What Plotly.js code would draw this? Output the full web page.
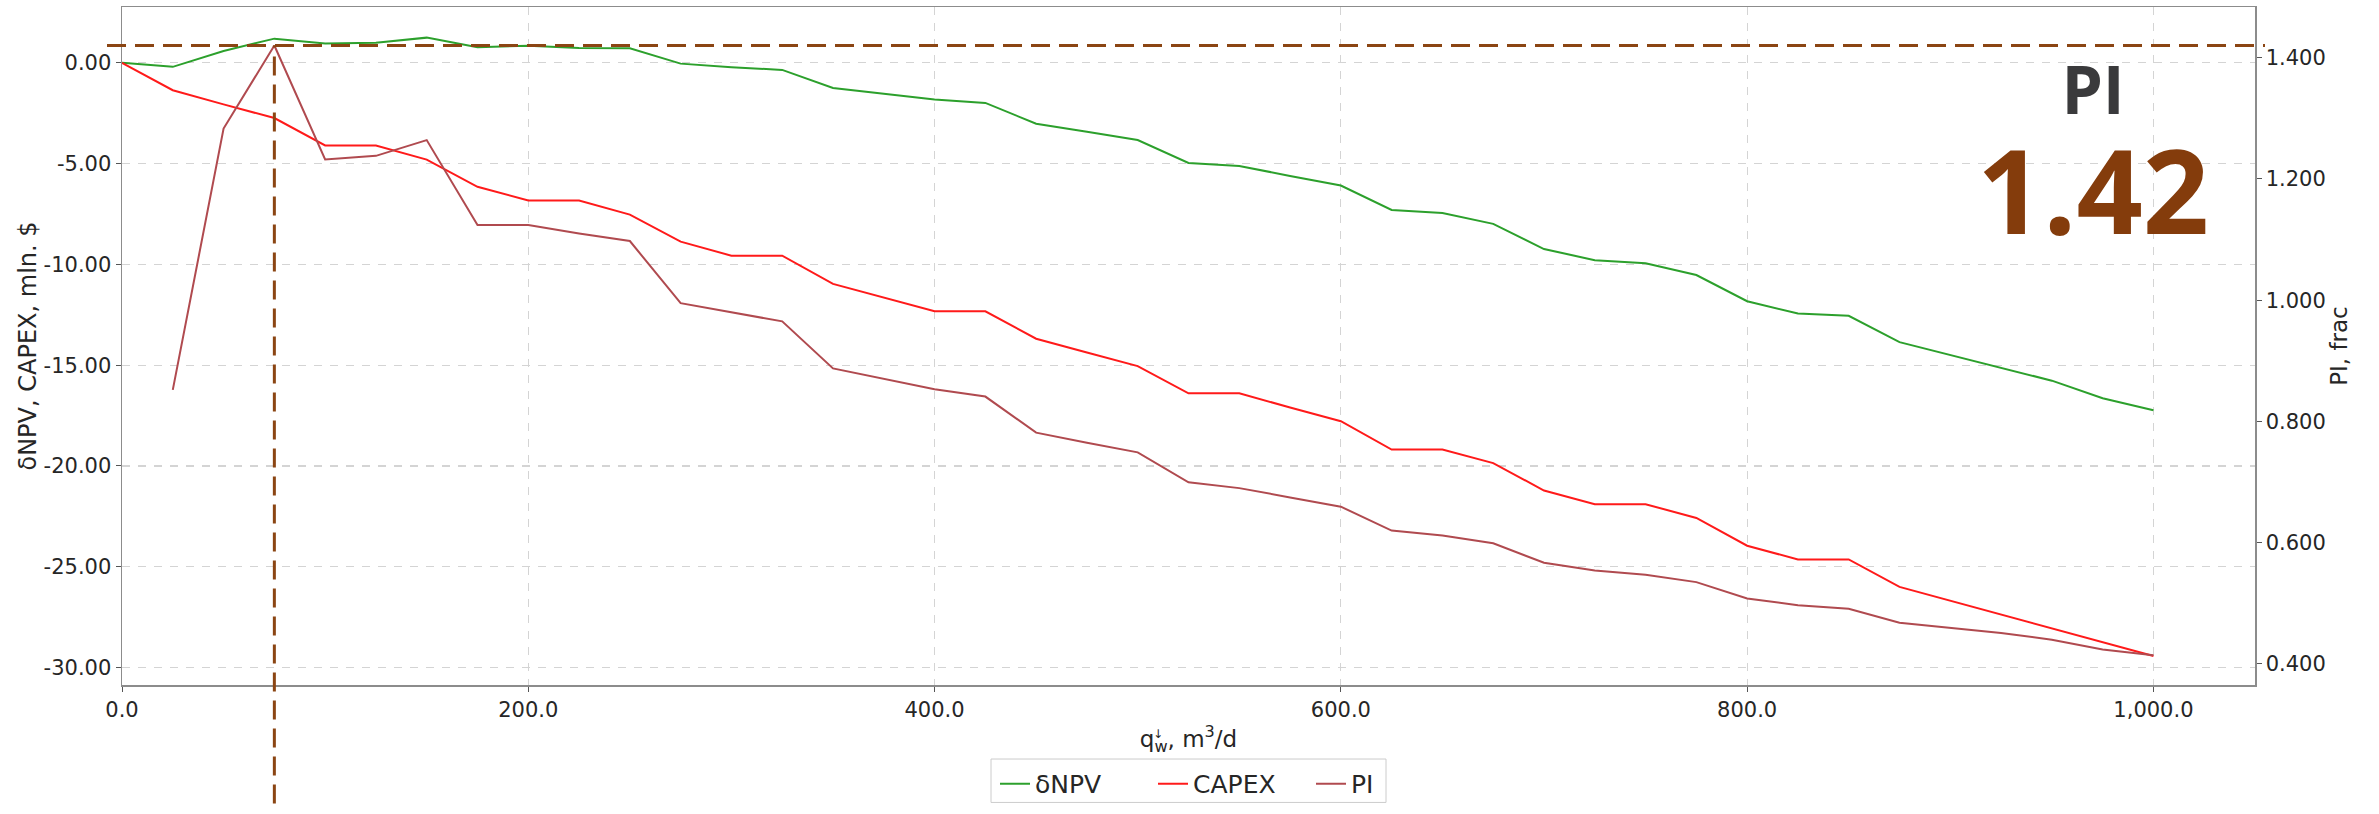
<!DOCTYPE html>
<html>
<head>
<meta charset="utf-8">
<script src="https://cdn.plot.ly/plotly-3.0.1.min.js"></script>
<style>
  html, body { margin: 0; padding: 0; background: #ffffff; }
  #chart { width: 2379px; height: 814px; }
</style>
</head>
<body>
<div id="chart"></div>
<script>
// Water injection rate, m3/d
const rate = [0, 25, 50, 75, 100, 125, 150, 175, 200, 225, 250, 275, 300, 325, 350, 375, 400,
  425, 450, 475, 500, 525, 550, 575, 600, 625, 650, 675, 700, 725, 750, 775, 800,
  825, 850, 875, 900, 925, 950, 975, 1000];

// Incremental NPV, mln. $
const dNPV = [0, -0.2, 0.59, 1.2, 0.96, 1.0, 1.25, 0.77, 0.85, 0.74, 0.72, -0.04, -0.22, -0.35, -1.25, -1.53, -1.82,
  -1.99, -3.02, -3.42, -3.83, -4.97, -5.12, -5.61, -6.09, -7.3, -7.45, -7.99, -9.24, -9.79, -9.94, -10.53, -11.83,
  -12.44, -12.55, -13.86, -14.5, -15.13, -15.77, -16.64, -17.24];

// Capital expenditure, mln. $
const capex = [0, -1.36, -2.06, -2.74, -4.1, -4.1, -4.8, -6.15, -6.83, -6.83, -7.53, -8.87, -9.57, -9.57, -10.97, -11.65, -12.33,
  -12.33, -13.69, -14.37, -15.05, -16.4, -16.4, -17.1, -17.78, -19.19, -19.19, -19.86, -21.22, -21.9, -21.9, -22.58, -23.96,
  -24.64, -24.64, -26.0, -26.68, -27.38, -28.05, -28.75, -29.43];

// Profitability index, frac (undefined at zero rate)
const pi = [null, 0.852, 1.283, 1.42, 1.232, 1.238, 1.264, 1.124, 1.124, 1.11, 1.0975, 0.995, 0.98, 0.965, 0.8875, 0.87, 0.853,
  0.841, 0.7815, 0.765, 0.749, 0.6995, 0.69, 0.6747, 0.6594, 0.62, 0.612, 0.599, 0.567, 0.554, 0.547, 0.535, 0.508,
  0.497, 0.491, 0.468, 0.46, 0.451, 0.44, 0.424, 0.4145];

// Tick labels
const xTickVals = [0, 200, 400, 600, 800, 1000];
const xTickText = ['0.0', '200.0', '400.0', '600.0', '800.0', '1,000.0'];
const yTickVals = [-30, -25, -20, -15, -10, -5, 0];
const yTickText = ['-30.00', '-25.00', '-20.00', '-15.00', '-10.00', '-5.00', '0.00'];
const y2TickVals = [0.4, 0.6, 0.8, 1.0, 1.2, 1.4];
const y2TickText = ['0.400', '0.600', '0.800', '1.000', '1.200', '1.400'];

// Best point: maximum PI
let bestIdx = 1;
for (let i = 1; i < pi.length; i++) if (pi[i] !== null && pi[i] > pi[bestIdx]) bestIdx = i;
const bestRate = rate[bestIdx];
const bestPI = pi[bestIdx];

const xRange = [0, 1050];
const yRange = [-30.87, 2.77];
const y2Range = [0.3653, 1.4835];

const W = 2379, H = 814;
const M = { l: 122, r: 124, t: 7, b: 120 };
const plotW = W - M.l - M.r;
const plotH = H - M.t - M.b;

// pixel -> paper fraction helpers for decorations placed around the plot area
const px2fx = px => (px - M.l) / plotW;
const px2fy = py => (H - M.b - py) / plotH;

const fracX = v => (v - xRange[0]) / (xRange[1] - xRange[0]);
const fracY2 = v => (v - y2Range[0]) / (y2Range[1] - y2Range[0]);

const ink = '#262626';
const tickFont = { family: 'DejaVu Sans', size: 21, color: ink };
const brown = '#8b4513';

const traces = [
  { x: rate, y: dNPV, name: 'δNPV', type: 'scatter', mode: 'lines',
    line: { color: '#2ca02c', width: 2 }, yaxis: 'y' },
  { x: rate, y: capex, name: 'CAPEX', type: 'scatter', mode: 'lines',
    line: { color: '#ff1a1a', width: 2 }, yaxis: 'y' },
  { x: rate, y: pi, name: 'PI', type: 'scatter', mode: 'lines',
    line: { color: '#b04a4f', width: 2 }, yaxis: 'y2' }
];

// Headline block: caption and best PI value
const badgeText =
  '<span style="font-size:66px;color:#3a3a3c">PI</span><br>' +
  '<span style="font-size:116px;color:#843c0c">' + bestPI.toFixed(2) + '</span>';

const layout = {
  width: W, height: H,
  margin: M,
  paper_bgcolor: '#ffffff', plot_bgcolor: '#ffffff',
  showlegend: true,
  hovermode: false,
  xaxis: {
    range: xRange, autorange: false,
    tickmode: 'array', tickvals: xTickVals, ticktext: xTickText,
    ticks: 'outside', ticklen: 5, tickwidth: 1, tickcolor: '#555555',
    tickfont: tickFont,
    showgrid: true, gridcolor: '#d4d4d4', gridwidth: 1.2, griddash: '8px,8px',
    showline: true, mirror: true, linecolor: '#8c8c8c', linewidth: 1.5,
    zeroline: false,
    title: { text: 'q<sub>w</sub>, m<sup>3</sup>/d', font: { family: 'DejaVu Sans', size: 23, color: ink }, standoff: 10 }
  },
  yaxis: {
    range: yRange, autorange: false,
    tickmode: 'array', tickvals: yTickVals, ticktext: yTickText,
    ticks: 'outside', ticklen: 5, tickwidth: 1, tickcolor: '#555555',
    tickfont: tickFont,
    showgrid: true, gridcolor: '#d4d4d4', gridwidth: 1.2, griddash: '8px,8px',
    showline: true, mirror: true, linecolor: '#8c8c8c', linewidth: 1.5,
    zeroline: false,
    title: { text: 'δNPV, CAPEX, mln. $', font: { family: 'DejaVu Sans', size: 24, color: ink }, standoff: 0 }
  },
  yaxis2: {
    overlaying: 'y', side: 'right',
    range: y2Range, autorange: false,
    tickmode: 'array', tickvals: y2TickVals, ticktext: y2TickText,
    ticks: 'outside', ticklen: 5, tickwidth: 1, tickcolor: '#555555',
    tickfont: tickFont,
    showgrid: false, zeroline: false,
    showline: true, linecolor: '#8c8c8c', linewidth: 1.5,
    title: { text: 'PI, frac', font: { family: 'DejaVu Sans', size: 23, color: ink }, standoff: 0 }
  },
  legend: {
    orientation: 'h', x: px2fx(995), xanchor: 'left', y: px2fy(771), yanchor: 'top',
    entrywidth: 113,
    bgcolor: 'rgba(0,0,0,0)', borderwidth: 0,
    font: { family: 'DejaVu Sans', size: 25, color: ink }
  },
  shapes: [
    // legend frame
    { type: 'rect', xref: 'paper', yref: 'paper', layer: 'below',
      x0: px2fx(991), x1: px2fx(1386), y0: px2fy(769), y1: px2fy(813),
      line: { color: '#cccccc', width: 1 }, fillcolor: '#ffffff' },
    // guide lines through the best PI point
    { type: 'line', xref: 'paper', yref: 'paper', layer: 'above',
      x0: px2fx(107), x1: px2fx(2265), y0: fracY2(bestPI), y1: fracY2(bestPI),
      line: { color: brown, width: 3, dash: '19px,9px' } },
    { type: 'line', xref: 'paper', yref: 'paper', layer: 'above',
      x0: fracX(bestRate), x1: fracX(bestRate), y0: px2fy(H), y1: fracY2(bestPI),
      line: { color: brown, width: 3, dash: '19px,9px' } }
  ],
  annotations: [
    { xref: 'paper', yref: 'paper', x: px2fx(1158), y: px2fy(744), xanchor: 'center', yanchor: 'middle',
      text: '↓', showarrow: false, font: { family: 'DejaVu Sans', size: 12, color: ink } },
    { xref: 'paper', yref: 'paper', x: px2fx(2093), y: px2fy(157), xanchor: 'center', yanchor: 'middle',
      align: 'center', text: badgeText, showarrow: false,
      font: { family: 'Open Sans', size: 92, weight: 700, color: '#843c0c' } }
  ]
};

Plotly.newPlot('chart', traces, layout, { staticPlot: true, displayModeBar: false });
</script>
</body>
</html>
